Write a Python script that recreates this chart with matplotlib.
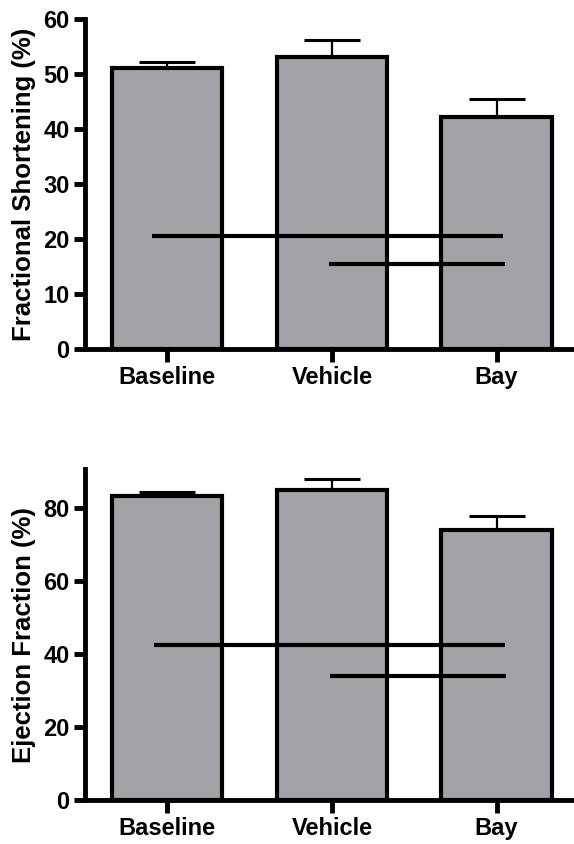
import numpy as np
import matplotlib.pyplot as plt

plt.rcParams['font.family'] = ['Liberation Sans', 'DejaVu Sans']
plt.rcParams['font.weight'] = 'bold'

groups = ['Baseline', 'Vehicle', 'Bay']

fs_mean = [51.0, 53.1, 42.1]
fs_err = [1.1, 3.0, 3.4]
fs_lines_y = [20.5, 15.4]
fs_lines_x0 = [-0.09, 0.98]
fs_lines_x1 = [2.04, 2.05]

ef_mean = [83.3, 84.9, 73.9]
ef_err = [0.9, 2.9, 3.8]
ef_lines_y = [42.4, 33.9]
ef_lines_x0 = [-0.08, 0.99]
ef_lines_x1 = [2.05, 2.06]

bar_color = '#a3a2a7'


def draw_panel(ax, mean, err, ly, lx0, lx1, ylabel, ymax, yticks):
    x = np.arange(len(groups))
    ax.errorbar(x, mean, yerr=[np.zeros(len(err)), err], fmt='none',
                ecolor='black', elinewidth=1.6, capsize=20, capthick=2.2, zorder=1)
    ax.bar(x, mean, width=0.67, color=bar_color, edgecolor='black',
           linewidth=3, zorder=2)
    ax.hlines(ly, lx0, lx1, color='black', linewidth=3, zorder=3)

    ax.set_xlim(-0.5, 2.47)
    ax.set_ylim(0, ymax)
    ax.set_yticks(yticks)
    ax.set_xticks(x)
    ax.set_xticklabels(groups)
    ax.set_ylabel(ylabel, fontsize=18.5, fontweight='bold', labelpad=5)
    for s in ['top', 'right']:
        ax.spines[s].set_visible(False)
    for s in ['left', 'bottom']:
        ax.spines[s].set_linewidth(3.5)
    ax.tick_params(axis='y', width=3.5, length=8, labelsize=17, pad=3)
    ax.tick_params(axis='x', width=3.5, length=9, labelsize=17, pad=3)


fig = plt.figure(figsize=(5.74, 8.44), dpi=100)
ax1 = fig.add_axes([0.148, 0.5865, 0.852, 0.391])
ax2 = fig.add_axes([0.148, 0.0521, 0.852, 0.392])

draw_panel(ax1, fs_mean, fs_err, fs_lines_y, fs_lines_x0, fs_lines_x1,
           'Fractional Shortening (%)', 60, [0, 10, 20, 30, 40, 50, 60])
draw_panel(ax2, ef_mean, ef_err, ef_lines_y, ef_lines_x0, ef_lines_x1,
           'Ejection Fraction (%)', 90.5, [0, 20, 40, 60, 80])

fig.savefig('out.png', dpi=100)
